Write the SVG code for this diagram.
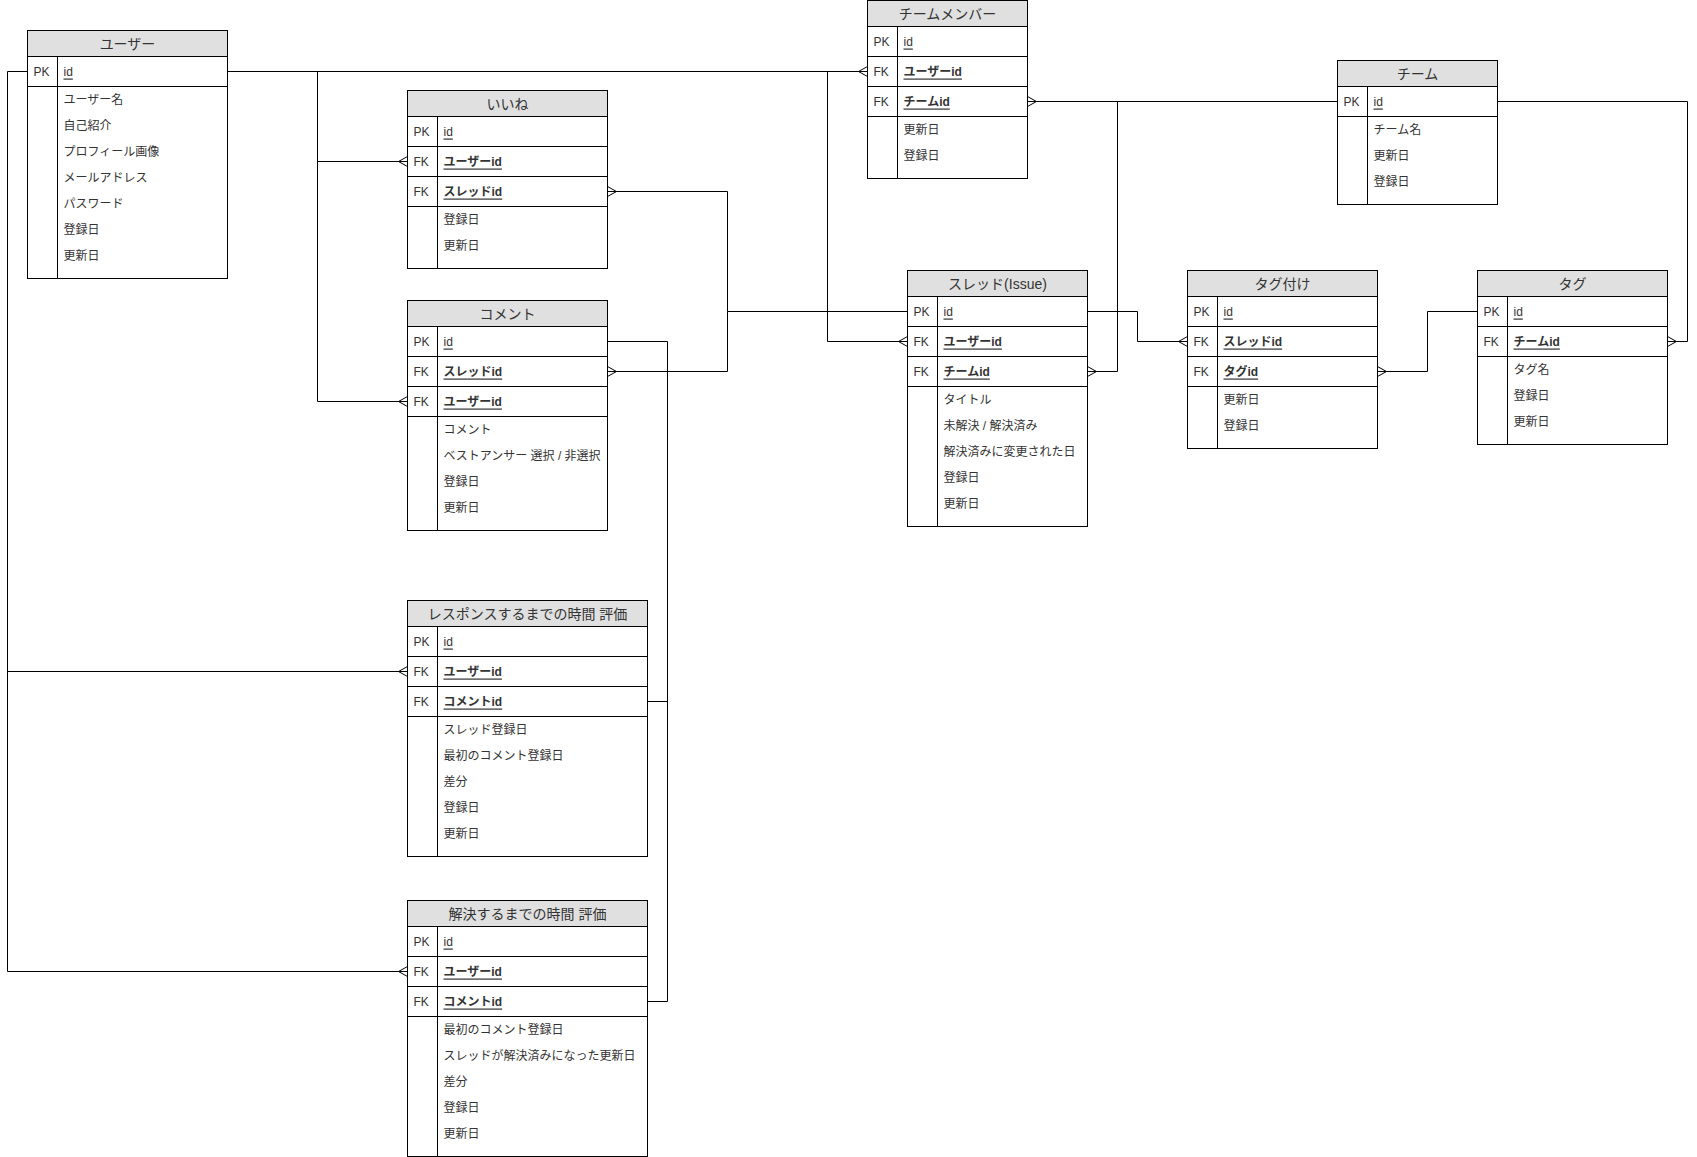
<svg xmlns="http://www.w3.org/2000/svg" width="1697" height="1157" viewBox="0 0 1697 1157">
<style>
.box{fill:#ffffff;stroke:#000;stroke-width:1}
.hdr{fill:#e0e0e0;stroke:#000;stroke-width:1}
.ln{stroke:#000;stroke-width:1}
.conn{fill:none;stroke:#000;stroke-width:1}
text{font-family:"Liberation Sans","Noto Sans CJK JP",sans-serif;fill:#333;dominant-baseline:central}
.ht{font-size:14px;text-anchor:middle}
.t{font-size:12px}
.pk{font-size:12px;text-decoration:underline}
.fk{font-size:12px;text-decoration:underline;font-weight:bold}
</style>
<defs>
<marker id="many" viewBox="-11 -7 13 14" refX="0" refY="0" markerWidth="13" markerHeight="14" markerUnits="userSpaceOnUse" orient="auto">
<path d="M-9,0 L0,-5 M-9,0 L0,5" fill="none" stroke="#000" stroke-width="1"/>
</marker>
</defs>
<rect x="0" y="0" width="1697" height="1157" fill="#ffffff"/>
<g id="connectors">
<path class="conn" d="M227.5,71.5 H867.5" marker-end="url(#many)"/>
<path class="conn" d="M827.5,71.5 V341.5 H907.5" marker-end="url(#many)"/>
<path class="conn" d="M317.5,71.5 V401.5 H407.5" marker-end="url(#many)"/>
<path class="conn" d="M317.5,161.5 H407.5" marker-end="url(#many)"/>
<path class="conn" d="M27.5,71.5 H7.5 V971.5 H407.5" marker-end="url(#many)"/>
<path class="conn" d="M7.5,671.5 H407.5" marker-end="url(#many)"/>
<path class="conn" d="M907.5,311.5 H727.5 V191.5 H607.5" marker-end="url(#many)"/>
<path class="conn" d="M727.5,311.5 V371.5 H607.5" marker-end="url(#many)"/>
<path class="conn" d="M607.5,341.5 H667.5 V1001.5 H647.5"/>
<path class="conn" d="M667.5,701.5 H647.5"/>
<path class="conn" d="M1337.5,101.5 H1027.5" marker-end="url(#many)"/>
<path class="conn" d="M1117.5,101.5 V371.5 H1087.5" marker-end="url(#many)"/>
<path class="conn" d="M1087.5,311.5 H1137.5 V341.5 H1187.5" marker-end="url(#many)"/>
<path class="conn" d="M1477.5,311.5 H1427.5 V371.5 H1377.5" marker-end="url(#many)"/>
<path class="conn" d="M1497.5,101.5 H1687.5 V341.5 H1667.5" marker-end="url(#many)"/>
</g>
<g id="user">
<rect class="box" x="27.5" y="30.5" width="200" height="248"/>
<rect class="hdr" x="27.5" y="30.5" width="200" height="26"/>
<text class="ht" x="127.5" y="43.5">ユーザー</text>
<line class="ln" x1="27.5" y1="86.5" x2="227.5" y2="86.5"/>
<line class="ln" x1="57.5" y1="56.5" x2="57.5" y2="278.5"/>
<text class="t" x="33.5" y="71.5">PK</text><text class="pk" x="63.5" y="71.5">id</text>
<text class="t" x="63.5" y="99.5">ユーザー名</text>
<text class="t" x="63.5" y="125.5">自己紹介</text>
<text class="t" x="63.5" y="151.5">プロフィール画像</text>
<text class="t" x="63.5" y="177.5">メールアドレス</text>
<text class="t" x="63.5" y="203.5">パスワード</text>
<text class="t" x="63.5" y="229.5">登録日</text>
<text class="t" x="63.5" y="255.5">更新日</text>
</g>
<g id="iine">
<rect class="box" x="407.5" y="90.5" width="200" height="178"/>
<rect class="hdr" x="407.5" y="90.5" width="200" height="26"/>
<text class="ht" x="507.5" y="103.5">いいね</text>
<line class="ln" x1="407.5" y1="146.5" x2="607.5" y2="146.5"/>
<line class="ln" x1="407.5" y1="176.5" x2="607.5" y2="176.5"/>
<line class="ln" x1="407.5" y1="206.5" x2="607.5" y2="206.5"/>
<line class="ln" x1="437.5" y1="116.5" x2="437.5" y2="268.5"/>
<text class="t" x="413.5" y="131.5">PK</text><text class="pk" x="443.5" y="131.5">id</text>
<text class="t" x="413.5" y="161.5">FK</text><text class="fk" x="443.5" y="161.5">ユーザーid</text>
<text class="t" x="413.5" y="191.5">FK</text><text class="fk" x="443.5" y="191.5">スレッドid</text>
<text class="t" x="443.5" y="219.5">登録日</text>
<text class="t" x="443.5" y="245.5">更新日</text>
</g>
<g id="comment">
<rect class="box" x="407.5" y="300.5" width="200" height="230"/>
<rect class="hdr" x="407.5" y="300.5" width="200" height="26"/>
<text class="ht" x="507.5" y="313.5">コメント</text>
<line class="ln" x1="407.5" y1="356.5" x2="607.5" y2="356.5"/>
<line class="ln" x1="407.5" y1="386.5" x2="607.5" y2="386.5"/>
<line class="ln" x1="407.5" y1="416.5" x2="607.5" y2="416.5"/>
<line class="ln" x1="437.5" y1="326.5" x2="437.5" y2="530.5"/>
<text class="t" x="413.5" y="341.5">PK</text><text class="pk" x="443.5" y="341.5">id</text>
<text class="t" x="413.5" y="371.5">FK</text><text class="fk" x="443.5" y="371.5">スレッドid</text>
<text class="t" x="413.5" y="401.5">FK</text><text class="fk" x="443.5" y="401.5">ユーザーid</text>
<text class="t" x="443.5" y="429.5">コメント</text>
<text class="t" x="443.5" y="455.5">ベストアンサー 選択 / 非選択</text>
<text class="t" x="443.5" y="481.5">登録日</text>
<text class="t" x="443.5" y="507.5">更新日</text>
</g>
<g id="team-member">
<rect class="box" x="867.5" y="0.5" width="160" height="178"/>
<rect class="hdr" x="867.5" y="0.5" width="160" height="26"/>
<text class="ht" x="947.5" y="13.5">チームメンバー</text>
<line class="ln" x1="867.5" y1="56.5" x2="1027.5" y2="56.5"/>
<line class="ln" x1="867.5" y1="86.5" x2="1027.5" y2="86.5"/>
<line class="ln" x1="867.5" y1="116.5" x2="1027.5" y2="116.5"/>
<line class="ln" x1="897.5" y1="26.5" x2="897.5" y2="178.5"/>
<text class="t" x="873.5" y="41.5">PK</text><text class="pk" x="903.5" y="41.5">id</text>
<text class="t" x="873.5" y="71.5">FK</text><text class="fk" x="903.5" y="71.5">ユーザーid</text>
<text class="t" x="873.5" y="101.5">FK</text><text class="fk" x="903.5" y="101.5">チームid</text>
<text class="t" x="903.5" y="129.5">更新日</text>
<text class="t" x="903.5" y="155.5">登録日</text>
</g>
<g id="team">
<rect class="box" x="1337.5" y="60.5" width="160" height="144"/>
<rect class="hdr" x="1337.5" y="60.5" width="160" height="26"/>
<text class="ht" x="1417.5" y="73.5">チーム</text>
<line class="ln" x1="1337.5" y1="116.5" x2="1497.5" y2="116.5"/>
<line class="ln" x1="1367.5" y1="86.5" x2="1367.5" y2="204.5"/>
<text class="t" x="1343.5" y="101.5">PK</text><text class="pk" x="1373.5" y="101.5">id</text>
<text class="t" x="1373.5" y="129.5">チーム名</text>
<text class="t" x="1373.5" y="155.5">更新日</text>
<text class="t" x="1373.5" y="181.5">登録日</text>
</g>
<g id="thread">
<rect class="box" x="907.5" y="270.5" width="180" height="256"/>
<rect class="hdr" x="907.5" y="270.5" width="180" height="26"/>
<text class="ht" x="997.5" y="283.5">スレッド(Issue)</text>
<line class="ln" x1="907.5" y1="326.5" x2="1087.5" y2="326.5"/>
<line class="ln" x1="907.5" y1="356.5" x2="1087.5" y2="356.5"/>
<line class="ln" x1="907.5" y1="386.5" x2="1087.5" y2="386.5"/>
<line class="ln" x1="937.5" y1="296.5" x2="937.5" y2="526.5"/>
<text class="t" x="913.5" y="311.5">PK</text><text class="pk" x="943.5" y="311.5">id</text>
<text class="t" x="913.5" y="341.5">FK</text><text class="fk" x="943.5" y="341.5">ユーザーid</text>
<text class="t" x="913.5" y="371.5">FK</text><text class="fk" x="943.5" y="371.5">チームid</text>
<text class="t" x="943.5" y="399.5">タイトル</text>
<text class="t" x="943.5" y="425.5">未解決 / 解決済み</text>
<text class="t" x="943.5" y="451.5">解決済みに変更された日</text>
<text class="t" x="943.5" y="477.5">登録日</text>
<text class="t" x="943.5" y="503.5">更新日</text>
</g>
<g id="tagging">
<rect class="box" x="1187.5" y="270.5" width="190" height="178"/>
<rect class="hdr" x="1187.5" y="270.5" width="190" height="26"/>
<text class="ht" x="1282.5" y="283.5">タグ付け</text>
<line class="ln" x1="1187.5" y1="326.5" x2="1377.5" y2="326.5"/>
<line class="ln" x1="1187.5" y1="356.5" x2="1377.5" y2="356.5"/>
<line class="ln" x1="1187.5" y1="386.5" x2="1377.5" y2="386.5"/>
<line class="ln" x1="1217.5" y1="296.5" x2="1217.5" y2="448.5"/>
<text class="t" x="1193.5" y="311.5">PK</text><text class="pk" x="1223.5" y="311.5">id</text>
<text class="t" x="1193.5" y="341.5">FK</text><text class="fk" x="1223.5" y="341.5">スレッドid</text>
<text class="t" x="1193.5" y="371.5">FK</text><text class="fk" x="1223.5" y="371.5">タグid</text>
<text class="t" x="1223.5" y="399.5">更新日</text>
<text class="t" x="1223.5" y="425.5">登録日</text>
</g>
<g id="tag">
<rect class="box" x="1477.5" y="270.5" width="190" height="174"/>
<rect class="hdr" x="1477.5" y="270.5" width="190" height="26"/>
<text class="ht" x="1572.5" y="283.5">タグ</text>
<line class="ln" x1="1477.5" y1="326.5" x2="1667.5" y2="326.5"/>
<line class="ln" x1="1477.5" y1="356.5" x2="1667.5" y2="356.5"/>
<line class="ln" x1="1507.5" y1="296.5" x2="1507.5" y2="444.5"/>
<text class="t" x="1483.5" y="311.5">PK</text><text class="pk" x="1513.5" y="311.5">id</text>
<text class="t" x="1483.5" y="341.5">FK</text><text class="fk" x="1513.5" y="341.5">チームid</text>
<text class="t" x="1513.5" y="369.5">タグ名</text>
<text class="t" x="1513.5" y="395.5">登録日</text>
<text class="t" x="1513.5" y="421.5">更新日</text>
</g>
<g id="response-eval">
<rect class="box" x="407.5" y="600.5" width="240" height="256"/>
<rect class="hdr" x="407.5" y="600.5" width="240" height="26"/>
<text class="ht" x="527.5" y="613.5">レスポンスするまでの時間 評価</text>
<line class="ln" x1="407.5" y1="656.5" x2="647.5" y2="656.5"/>
<line class="ln" x1="407.5" y1="686.5" x2="647.5" y2="686.5"/>
<line class="ln" x1="407.5" y1="716.5" x2="647.5" y2="716.5"/>
<line class="ln" x1="437.5" y1="626.5" x2="437.5" y2="856.5"/>
<text class="t" x="413.5" y="641.5">PK</text><text class="pk" x="443.5" y="641.5">id</text>
<text class="t" x="413.5" y="671.5">FK</text><text class="fk" x="443.5" y="671.5">ユーザーid</text>
<text class="t" x="413.5" y="701.5">FK</text><text class="fk" x="443.5" y="701.5">コメントid</text>
<text class="t" x="443.5" y="729.5">スレッド登録日</text>
<text class="t" x="443.5" y="755.5">最初のコメント登録日</text>
<text class="t" x="443.5" y="781.5">差分</text>
<text class="t" x="443.5" y="807.5">登録日</text>
<text class="t" x="443.5" y="833.5">更新日</text>
</g>
<g id="resolve-eval">
<rect class="box" x="407.5" y="900.5" width="240" height="256"/>
<rect class="hdr" x="407.5" y="900.5" width="240" height="26"/>
<text class="ht" x="527.5" y="913.5">解決するまでの時間 評価</text>
<line class="ln" x1="407.5" y1="956.5" x2="647.5" y2="956.5"/>
<line class="ln" x1="407.5" y1="986.5" x2="647.5" y2="986.5"/>
<line class="ln" x1="407.5" y1="1016.5" x2="647.5" y2="1016.5"/>
<line class="ln" x1="437.5" y1="926.5" x2="437.5" y2="1156.5"/>
<text class="t" x="413.5" y="941.5">PK</text><text class="pk" x="443.5" y="941.5">id</text>
<text class="t" x="413.5" y="971.5">FK</text><text class="fk" x="443.5" y="971.5">ユーザーid</text>
<text class="t" x="413.5" y="1001.5">FK</text><text class="fk" x="443.5" y="1001.5">コメントid</text>
<text class="t" x="443.5" y="1029.5">最初のコメント登録日</text>
<text class="t" x="443.5" y="1055.5">スレッドが解決済みになった更新日</text>
<text class="t" x="443.5" y="1081.5">差分</text>
<text class="t" x="443.5" y="1107.5">登録日</text>
<text class="t" x="443.5" y="1133.5">更新日</text>
</g>
</svg>
